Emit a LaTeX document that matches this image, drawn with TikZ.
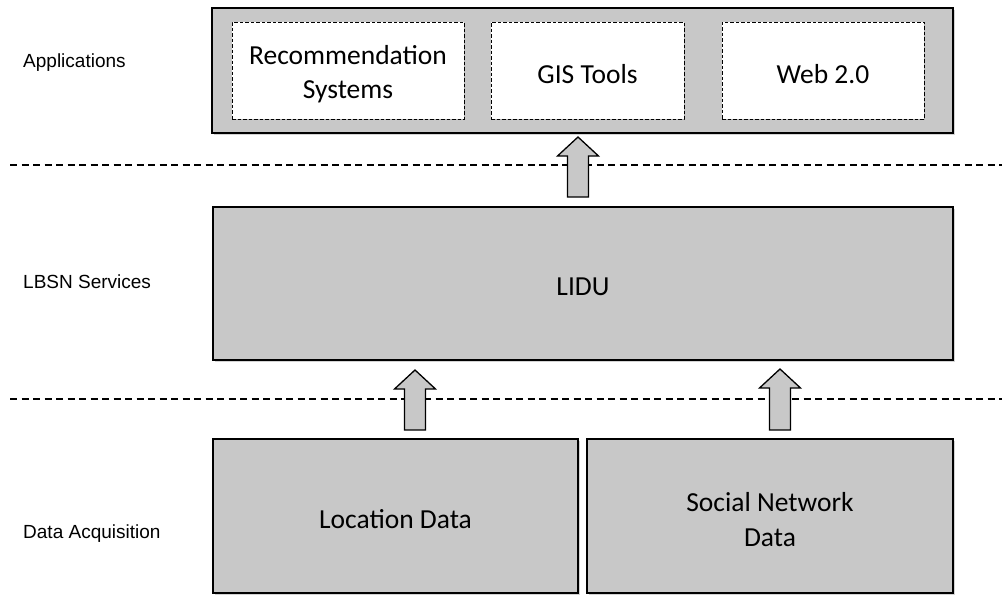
\documentclass[tikz,border=0pt]{standalone}
\usepackage{fontspec}
\setmainfont{Carlito}
\newfontfamily\labelfont{Liberation Sans}
\usetikzlibrary{shadows}
\definecolor{boxgray}{RGB}{200,200,200}
\newcommand\dn[1]{\raisebox{-3.5pt}[\height][\depth]{#1}}
\newcommand\blockup[4]{% name, cx, tip y, base y
  \draw[arrowbody] (#2-10.5,#4) -- (#2-10.5,#3+19) -- (#2-20.5,#3+19) -- (#2,#3)
    -- (#2+20.5,#3+19) -- (#2+10.5,#3+19) -- (#2+10.5,#4) -- cycle;
  \coordinate (#1) at (#2,#3);}
\begin{document}
\begin{tikzpicture}[x=1pt,y=-1pt,
  layerbox/.style={draw=black, line width=1.3pt, fill=boxgray,
    drop shadow={shadow xshift=1.5pt, shadow yshift=-1.5pt, opacity=0.35},
    inner sep=0pt, align=center, font=\fontsize{27.5}{35}\selectfont},
  appbox/.style={draw=black, line width=1pt, fill=white, dash pattern=on 3.5pt off 2pt,
    drop shadow={shadow xshift=1.2pt, shadow yshift=-1.2pt, opacity=0.35},
    inner sep=0pt, align=center, minimum height=97pt, font=\fontsize{27.5}{34}\selectfont},
  layerlabel/.style={anchor=base west, inner sep=0pt, font=\labelfont\fontsize{19}{23}\selectfont},
  separator/.style={line width=1.5pt, dash pattern=on 7pt off 4.5pt},
  arrowbody/.style={draw=black, line width=1.3pt, fill=boxgray, line join=miter},
  bar/.style={line width=2.6pt}]
\useasboundingbox (0,0) rectangle (1002,595);

% separators
\draw[separator] (10,165) coordinate (s1a) -- (1002,165) coordinate (s1b);
\draw[separator] (10,399) coordinate (s2a) -- (1002,399) coordinate (s2b);

% layer labels
\node[layerlabel] (lapp) at (23,67) {Applications};
\node[layerlabel] (llbsn) at (23,288) {LBSN Services};
\node[layerlabel] (ldata) at (23,538) {Data Acquisition};

% applications layer
\node[layerbox, minimum width=741pt, minimum height=125pt] (apps) at (582.5,70.5) {};
\node[appbox, minimum width=232pt] (rec) at (348,70.5) {\dn{Recommendation}\\\dn{Systems}};
\node[appbox, minimum width=193pt] (gis) at (587.5,70.5) {\dn{GIS Tools}};
\node[appbox, minimum width=202pt] (web) at (823,70.5) {\dn{Web 2.0}};

% LBSN services
\node[layerbox, minimum width=740pt, minimum height=153pt] (lidu) at (583,283.5) {\dn{LIDU}};

% data acquisition
\node[layerbox, minimum width=365pt, minimum height=154pt] (loc) at (395.5,516) {\dn{Location Data}};
\node[layerbox, minimum width=366pt, minimum height=154pt] (soc) at (770,516) {\dn{Social Network}\\\dn{Data}};

% arrows
\blockup{a1}{578}{137}{197}
\blockup{a2}{415}{370}{430}
\blockup{a3}{780}{369}{430}

% connection bars
\draw[bar] (548,133) -- (608,133);
\draw[bar] (548,207) -- (608,207);
\draw[bar] (386,439) -- (445,439);
\draw[bar] (751,439) -- (809,439);
\end{tikzpicture}
\end{document}
